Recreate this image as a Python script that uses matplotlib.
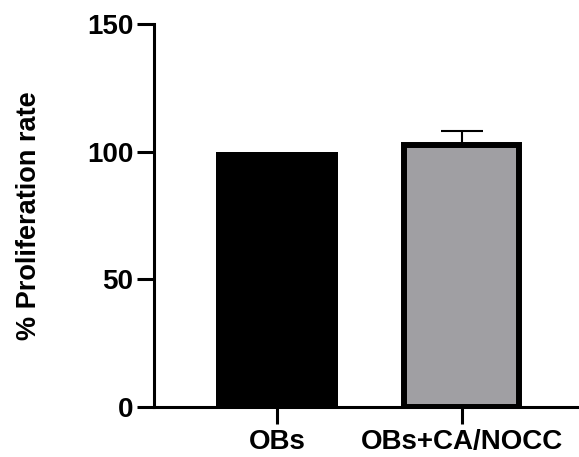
import matplotlib.pyplot as plt
import numpy as np

groups = ["OBs", "OBs+CA/NOCC"]
rate = [100, 102.5]
rate_err = [0, 5.5]
bar_colors = ["#000000", "#A09FA3"]

plt.rcParams["font.family"] = ["Liberation Sans", "DejaVu Sans"]
plt.rcParams["font.weight"] = "bold"

fig = plt.figure(figsize=(5.79, 4.57), dpi=100)
ax = fig.add_axes([0.266, 0.1094, 0.734, 0.8381])

x = np.arange(len(groups))
ax.bar(x, rate, width=[0.66, 0.625], color=bar_colors, edgecolor="black",
       linewidth=[0, 4.3], zorder=2)
ax.errorbar(x[1:], rate[1:], yerr=[[0], rate_err[1:]], fmt="none", ecolor="black",
            elinewidth=1.5, capsize=15, capthick=1.5, zorder=1)

ax.set_xlim(-0.665, 1.635)
ax.set_ylim(0, 150)
ax.set_yticks([0, 50, 100, 150])
ax.set_xticks(x)
ax.set_xticklabels(groups)

for side in ["top", "right"]:
    ax.spines[side].set_visible(False)
for side in ["left", "bottom"]:
    ax.spines[side].set_linewidth(2.2)

ax.tick_params(axis="both", width=2.2, length=12, labelsize=20, color="black")
ax.tick_params(axis="y", pad=3)
ax.tick_params(axis="x", pad=4)
ax.set_ylabel("% Proliferation rate", fontsize=19.5, fontweight="bold", labelpad=32)

fig.savefig("out.png", dpi=100)
